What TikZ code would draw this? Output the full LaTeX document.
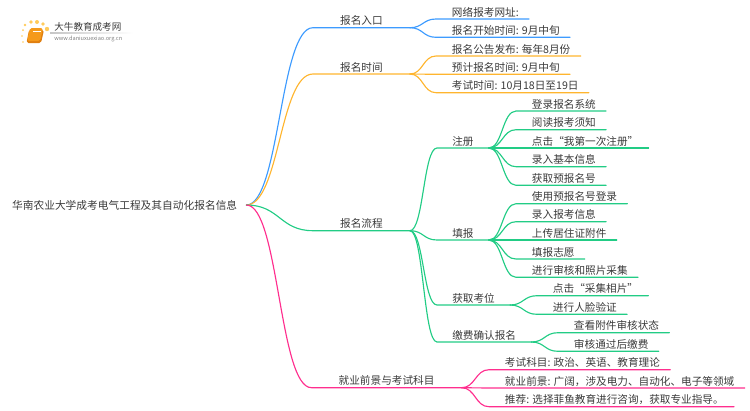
\documentclass[tikz,border=0pt]{standalone}
\usepackage{fontspec}
\setmainfont{Noto Sans CJK SC}
\usetikzlibrary{calc}
\definecolor{entryblue}{HTML}{3D9BFF}
\definecolor{timeorange}{HTML}{FFB52E}
\definecolor{flowgreen}{HTML}{22CC85}
\definecolor{jobpink}{HTML}{FF2E8E}
\definecolor{inkgray}{HTML}{3A3A3A}
\definecolor{logoorange}{HTML}{F59A1B}
\definecolor{logodark}{HTML}{E07F10}
\definecolor{logodot}{HTML}{FFCB5C}
\tikzset{
    label base/.style={anchor=south west, inner ysep=0pt, text height=6pt, text depth=1.4pt,
        font=\fontsize{6.05pt}{7pt}\selectfont, text=inkgray},
    root/.style={anchor=west, inner xsep=5pt, inner ysep=0pt, text=inkgray,
        font=\fontsize{6.1pt}{7pt}\selectfont},
    branch/.style={label base, inner xsep=15.3pt},
    stage/.style={label base, inner xsep=8.5pt},
    leaf/.style={label base, inner xsep=5.7pt, execute at begin node={\hspace*{3.2pt}}},
    link/.style={to path={let \p1=(\tikztostart), \p2=(\tikztotarget) in
        .. controls ({0.5*\x1+0.5*\x2},\y1) and ({0.5*\x1+0.5*\x2},\y2) .. (\tikztotarget)}},
    wire/.style={line width=0.65pt, line cap=round},
}
\begin{document}
\begin{tikzpicture}[x=0.02cm, y=-0.02cm]
    \useasboundingbox (0,0) rectangle (750,410);

    % Logo
    \foreach \dotx/\doty/\dotr in {23/30/1, 25/25/1.4, 31/22/1.8, 37/22/2, 43/24/1.8, 47/29/2.2, 22/36/0.9, 23/42/0.8}
        \fill[logodot] (\dotx,\doty) circle (\dotr);
    \fill[logodark, rounded corners=1pt] (29,30) -- (44,30) -- (41,43) -- (26.5,43) -- cycle;
    \fill[logoorange, rounded corners=1pt] (30,28) -- (43,28) -- (40,41) -- (27,41) -- cycle;
    \draw[white, line width=0.3pt] (33,31) -- (41,31);
    \shade[left color=gray!45, right color=white] (50,32.8) rectangle (133,33.4);
    \node[anchor=west, inner sep=0pt, text=inkgray, font=\fontsize{5.45pt}{6pt}\selectfont] (logoname) at (54,27) {大牛教育成考网};
    \node[anchor=west, inner sep=0pt, text=gray, font=\fontsize{3.2pt}{4pt}\selectfont] (logourl) at (54,38.7) {www.daniuxuexiao.org.cn};

    % Centre
    \node[root] (main) at (3,205) {华南农业大学成考电气工程及其自动化报名信息};

    % Branches
    \node[branch] (entry) at (313,27.7) {报名入口};
    \node[branch] (time) at (313,74) {报名时间};
    \node[branch] (flow) at (313,230.7) {报名流程};
    \node[branch] (job) at (311.5,387.7) {就业前景与考试科目};

    % Entry
    \node[leaf] (site) at (436,19) {网络报考网址:};
    \node[leaf] (start) at (436,37.3) {报名开始时间: 9月中旬};
    \draw[wire, entryblue] (main.east) to[link] (entry.south west) -- (entry.south east);
    \draw[wire, entryblue] (entry.south east) to[link] (site.south west) -- (site.south east);
    \draw[wire, entryblue] (entry.south east) to[link] (start.south west) -- (start.south east);

    % Time
    \node[leaf] (notice) at (436,56) {报名公告发布: 每年8月份};
    \node[leaf] (expect) at (436,74.3) {预计报名时间: 9月中旬};
    \node[leaf] (exam) at (436,92.7) {考试时间: 10月18日至19日};
    \draw[wire, timeorange] (main.east) to[link] (time.south west) -- (time.south east);
    \draw[wire, timeorange] (time.south east) to[link] (notice.south west) -- (notice.south east);
    \draw[wire, timeorange] (time.south east) to[link] (expect.south west) -- (expect.south east);
    \draw[wire, timeorange] (time.south east) to[link] (exam.south west) -- (exam.south east);

    % Flow
    \node[stage] (register) at (437,148) {注册};
    \node[stage] (fill) at (437,240) {填报};
    \node[stage] (seat) at (437,305) {获取考位};
    \node[stage] (pay) at (437,342) {缴费确认报名};
    \draw[wire, flowgreen] (main.east) to[link] (flow.south west) -- (flow.south east);
    \foreach \stagename in {register, fill, seat, pay}
        \draw[wire, flowgreen] (flow.south east) to[link] (\stagename.south west) -- (\stagename.south east);

    % Register
    \node[leaf] (r1) at (516,111) {登录报名系统};
    \node[leaf] (r2) at (516,129.7) {阅读报考须知};
    \node[leaf] (r3) at (516,148) {点击“我第一次注册”};
    \node[leaf] (r4) at (516,166.7) {录入基本信息};
    \node[leaf] (r5) at (516,185.3) {获取预报名号};
    \foreach \leafname in {r1, r2, r3, r4, r5}
        \draw[wire, flowgreen] (register.south east) to[link] (\leafname.south west) -- (\leafname.south east);

    % Fill
    \node[leaf] (f1) at (516,203.7) {使用预报名号登录};
    \node[leaf] (f2) at (516,221.7) {录入报考信息};
    \node[leaf] (f3) at (516,240) {上传居住证附件};
    \node[leaf] (f4) at (516,259) {填报志愿};
    \node[leaf] (f5) at (516,277.3) {进行审核和照片采集};
    \foreach \leafname in {f1, f2, f3, f4, f5}
        \draw[wire, flowgreen] (fill.south east) to[link] (\leafname.south west) -- (\leafname.south east);

    % Seat
    \node[leaf] (s1) at (537,295.7) {点击“采集相片”};
    \node[leaf] (s2) at (537,314.3) {进行人脸验证};
    \foreach \leafname in {s1, s2}
        \draw[wire, flowgreen] (seat.south east) to[link] (\leafname.south west) -- (\leafname.south east);

    % Pay
    \node[leaf] (p1) at (558,332.7) {查看附件审核状态};
    \node[leaf] (p2) at (558,351.3) {审核通过后缴费};
    \foreach \leafname in {p1, p2}
        \draw[wire, flowgreen] (pay.south east) to[link] (\leafname.south west) -- (\leafname.south east);

    % Job
    \node[leaf] (j1) at (489,369.7) {考试科目: 政治、英语、教育理论};
    \node[leaf] (j2) at (489,388) {就业前景: 广阔，涉及电力、自动化、电子等领域};
    \node[leaf] (j3) at (489,406.7) {推荐: 选择菲鱼教育进行咨询，获取专业指导。};
    \draw[wire, jobpink] (main.east) to[link] (job.south west) -- (job.south east);
    \foreach \leafname in {j1, j2, j3}
        \draw[wire, jobpink] (job.south east) to[link] (\leafname.south west) -- (\leafname.south east);
\end{tikzpicture}
\end{document}
